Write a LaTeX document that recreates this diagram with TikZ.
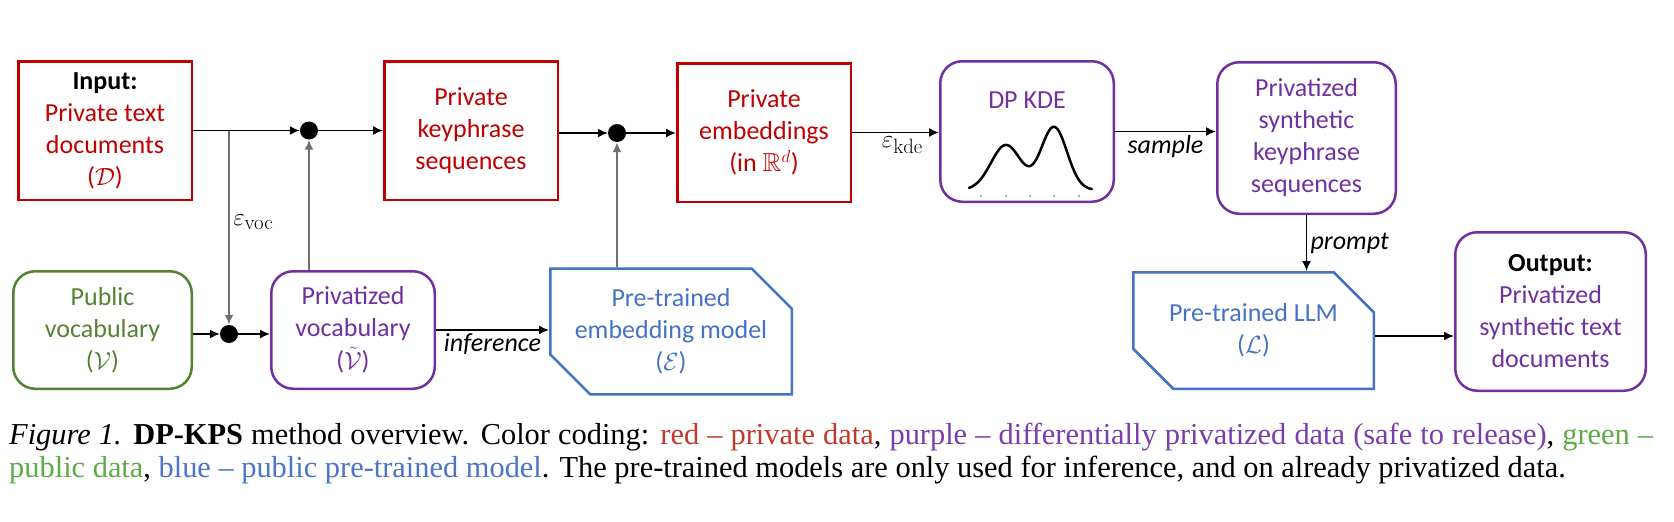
\documentclass[tikz,border=0pt]{standalone}
\usepackage[no-math]{fontspec}
\usepackage{amssymb}
\setmainfont{Carlito}
\newfontfamily\capfont{Liberation Serif}
\usetikzlibrary{arrows.meta,shapes.misc}

\definecolor{privred}{HTML}{C00000}
\definecolor{dppurple}{HTML}{7030A0}
\definecolor{pubgreen}{HTML}{548235}
\definecolor{modelblue}{HTML}{4472C4}
\definecolor{linkgray}{HTML}{707070}
\definecolor{capred}{HTML}{C0392B}
\definecolor{cappurple}{HTML}{7A3DAA}
\definecolor{capgreen}{HTML}{5DAB46}
\definecolor{capblue}{HTML}{4C74C9}

\tikzset{
  box/.style={align=center, line width=2.5pt, inner sep=0pt, font=\fontsize{26}{32}\selectfont},
  privbox/.style={box, draw=privred, text=privred, rectangle},
  dpbox/.style={box, draw=dppurple, text=dppurple, rounded corners=22pt},
  pubbox/.style={box, draw=pubgreen, text=pubgreen, rounded corners=22pt},
  modelbox/.style={box, draw=modelblue, text=modelblue, chamfered rectangle,
    chamfered rectangle corners={north east,south west},
    chamfered rectangle xsep=20pt, chamfered rectangle ysep=20pt},
  junction/.style={circle, fill, inner sep=0pt, minimum size=18pt},
  flow/.style={->, line width=1.5pt},
  tap/.style={->, line width=2pt, draw=linkgray},
  steplabel/.style={font=\fontsize{26}{32}\selectfont\itshape},
  epslabel/.style={font=\fontsize{31}{32}\selectfont},
  caption/.style={anchor=base west, inner sep=0pt, font=\capfont\fontsize{30.4}{33}\selectfont},
}

\begin{document}
\begin{tikzpicture}[x=1pt, y=-1pt, >={Latex[length=10pt,width=9pt]}]
    \useasboundingbox (0,0) rectangle (1674,522);

    % top row
    \node[privbox, minimum width=173.5pt, minimum height=138.5pt] (docs) at (105,130.5)
        {\textcolor{black}{\textbf{Input:}}\\Private text\\documents\\($\mathcal{D}$)};
    \node[privbox, minimum width=173.5pt, minimum height=138.5pt] (keyphr) at (471,130.5)
        {Private\\keyphrase\\sequences};
    \node[privbox, minimum width=173.5pt, minimum height=138.5pt] (emb) at (764,132.5)
        {Private\\embeddings\\(in $\mathbb{R}^d$)};
    \node[dpbox, minimum width=173.5pt, minimum height=140.5pt] (kde) at (1027,131.5) {};
    \node[text=dppurple, font=\fontsize{26}{32}\selectfont] (kdetitle) at (1027,100) {DP KDE};
    \node[dpbox, minimum width=178.5pt, minimum height=151.5pt] (synth) at (1306.5,138)
        {Privatized\\synthetic\\keyphrase\\sequences};

    % bottom row
    \node[pubbox, minimum width=178.5pt, minimum height=117.5pt] (pubvoc) at (102.5,330)
        {Public\\vocabulary\\($\mathcal{V}$)};
    \node[dpbox, minimum width=163.5pt, minimum height=117.5pt] (privvoc) at (353,330)
        {Privatized\\vocabulary\\[1pt]($\smash{\tilde{\mathcal{V}}}$)};
    \node[modelbox, minimum width=241.5pt, minimum height=118.5pt] (embmodel) at (671,331.5)
        {Pre-trained\\embedding model\\($\mathcal{E}$)};
    \node[modelbox, minimum width=240.5pt, minimum height=116.5pt] (llm) at (1253.5,330.5)
        {Pre-trained LLM\\($\mathcal{L}$)};
    \node[dpbox, minimum width=190.5pt, minimum height=158.5pt] (out) at (1550.5,311.5)
        {\textcolor{black}{\textbf{Output:}}\\Privatized\\synthetic text\\documents};

    % junctions
    \node[junction] (j1) at (309,130.5) {};
    \node[junction] (j2) at (229,334) {};
    \node[junction] (j3) at (617,133) {};
    \coordinate (split) at (229,130.5);

    % connectors
    \draw[flow] (docs.east) -- (j1);
    \draw[flow] (j1) -- (keyphr.west |- j1);
    \draw[tap] (split) -- (j2) node[pos=0.47, right, epslabel, text=black] {$\varepsilon_{\mathrm{voc}}$};
    \draw[flow] (pubvoc.east |- j2) -- (j2);
    \draw[flow] (j2) -- (privvoc.west |- j2);
    \draw[tap] (j1 |- privvoc.north) -- (j1);
    \draw[flow] (keyphr.east |- j3) -- (j3);
    \draw[flow] (j3) -- (emb.west |- j3);
    \draw[tap] (j3 |- embmodel.north) -- (j3);
    \draw[flow] (privvoc.east) -- (embmodel.west |- privvoc.east) node[midway, below, steplabel] {inference};
    \draw[flow] (emb.east) -- (kde.west |- emb.east) node[pos=0.58, below, epslabel] {$\varepsilon_{\mathrm{kde}}$};
    \draw[flow] (kde.east) -- (synth.west |- kde.east) node[midway, below, steplabel] {sample};
    \draw[flow] (synth.south) -- (synth.south |- llm.north) node[midway, right, steplabel] {prompt};
    \draw[flow] ([yshift=-5.5pt]llm.east) -- ([yshift=-5.5pt]llm.east -| out.west);

    % density sketch inside the DP KDE box
    \draw[line width=2.5pt, line cap=round] plot[domain=969:1092, samples=90]
        (\x, {190 - 45*exp(-1*((\x-1006)^2)/450) - 63*exp(-1*((\x-1054)^2)/338)});
    \foreach \t in {981,1006,1030,1054,1079}
        \fill[black!50] (\t,196) circle (1pt);

    % caption
    \node[caption] (capone) at (9,444)
        {\makebox[1644pt][s]{\textit{Figure 1.} \textbf{DP-KPS} method overview. Color coding: \textcolor{capred}{red \textendash{} private data}, \textcolor{cappurple}{purple \textendash{} differentially privatized data (safe to release)}, \textcolor{capgreen}{green \textendash}}};
    \node[caption] (captwo) at (9,477)
        {\textcolor{capgreen}{public data}, \textcolor{capblue}{blue \textendash{} public pre-trained model}. The pre-trained models are only used for inference, and on already privatized data.};
\end{tikzpicture}
\end{document}
